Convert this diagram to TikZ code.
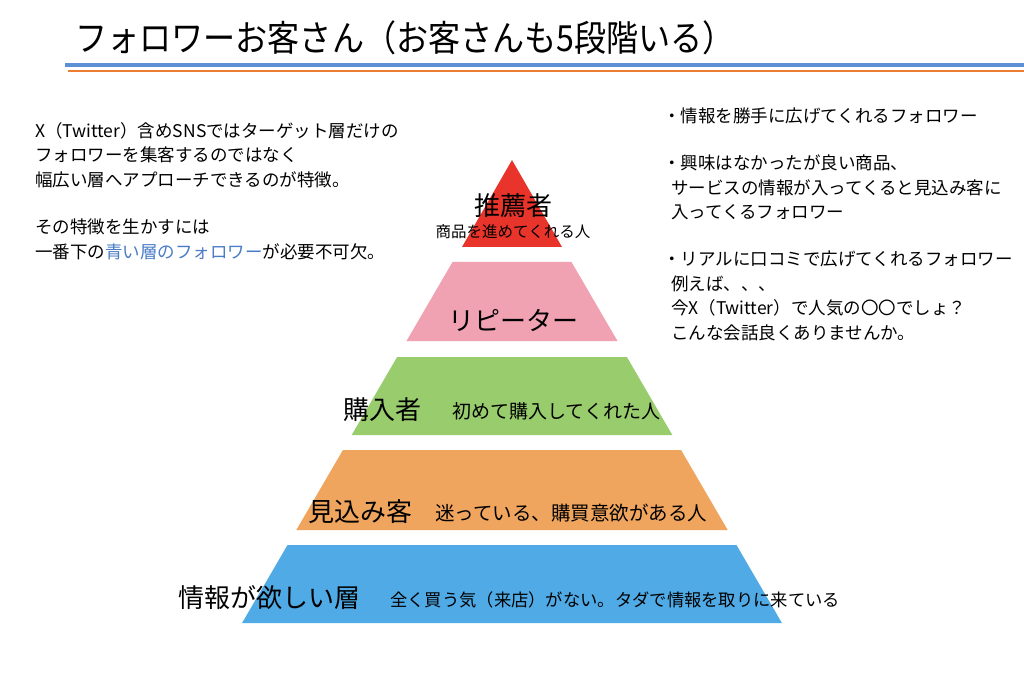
\documentclass[tikz,border=0pt]{standalone}
\usepackage{fontspec}
\setmainfont{Noto Sans CJK JP}
\definecolor{cred}{HTML}{E8342A}
\definecolor{cpink}{HTML}{F0A2B3}
\definecolor{cgreen}{HTML}{98CC6C}
\definecolor{corange}{HTML}{F0A55F}
\definecolor{cblue}{HTML}{4FAAE6}
\definecolor{tblue}{HTML}{4A7CC8}
\definecolor{lblue}{HTML}{5B8FD6}
\definecolor{lorange}{HTML}{ED7D31}
\tikzset{txt/.style={inner sep=0pt,anchor=west,font=\fontsize{17.5}{20}\selectfont},
 big/.style={inner sep=0pt,font=\fontsize{26}{30}\selectfont},
 mid/.style={inner sep=0pt,anchor=west,font=\fontsize{19.5}{22}\selectfont}}
\newcommand{\layer}[3]{\fill[#3] ({512-0.583*(#1-160)},#1) -- ({512+0.583*(#1-160)},#1) -- ({512+0.583*(#2-160)},#2) -- ({512-0.583*(#2-160)},#2) -- cycle;}
\begin{document}
\begin{tikzpicture}[x=1pt,y=-1pt]
\useasboundingbox[fill=white] (0,0) rectangle (1024,684);
\node[inner sep=0pt,anchor=west,font=\fontsize{30}{34}\selectfont] (title) at (75,38) {\scalebox{1.07}[1.2]{フォロワーお客さん（お客さんも5段階いる）}};
\draw[lblue,line width=4pt] (65,65) -- (1024,65);
\draw[lorange,line width=2pt] (68,71) -- (1024,71);
\fill[cred] (512,160) -- (462,247) -- (562,247) -- cycle;
\layer{262}{341}{cpink}
\layer{357}{435}{cgreen}
\layer{450}{530}{corange}
\layer{545}{623}{cblue}
\node[big] (l1) at (513,206) {推薦者};
\node[inner sep=0pt,font=\fontsize{15.5}{18}\selectfont] (l1b) at (513,232) {商品を進めてくれる人};
\node[big] (l2) at (513,320) {リピーター};
\node[big,anchor=west] (l3) at (343,410) {購入者};
\node[mid,font=\fontsize{19}{22}\selectfont] (l3b) at (452,411) {初めて購入してくれた人};
\node[big,anchor=west] (l4) at (308,512) {見込み客};
\node[mid] (l4b) at (435,513) {迷っている、購買意欲がある人};
\node[big,anchor=west] (l5) at (178,598) {情報が欲しい層};
\node[inner sep=0pt,anchor=west,font=\fontsize{17.3}{20}\selectfont] (l5b) at (390,600) {全く買う気（来店）がない。タダで情報を取りに来ている};
\node[txt] (a1) at (35,131) {X（Twitter）含めSNSではターゲット層だけの};
\node[txt] (a2) at (35,155) {フォロワーを集客するのではなく};
\node[txt] (a3) at (35,180) {幅広い層へアプローチできるのが特徴。};
\node[txt] (a4) at (35,227) {その特徴を生かすには};
\node[txt] (a5) at (35,252) {一番下の\textcolor{tblue}{青い層のフォロワー}が必要不可欠。};
\node[txt] (b1) at (663,116) {・情報を勝手に広げてくれるフォロワー};
\node[txt] (b2) at (663,163) {・興味はなかったが良い商品、};
\node[txt] (b3) at (663,188) {\ \ サービスの情報が入ってくると見込み客に};
\node[txt] (b4) at (663,212) {\ \ 入ってくるフォロワー};
\node[txt] (b5) at (663,259) {・リアルに口コミで広げてくれるフォロワー};
\node[txt] (b6) at (663,284) {\ \ 例えば、、、};
\node[txt] (b7) at (663,308) {\ \ 今X（Twitter）で人気の〇〇でしょ？};
\node[txt] (b8) at (663,333) {\ \ こんな会話良くありませんか。};
\end{tikzpicture}
\end{document}
